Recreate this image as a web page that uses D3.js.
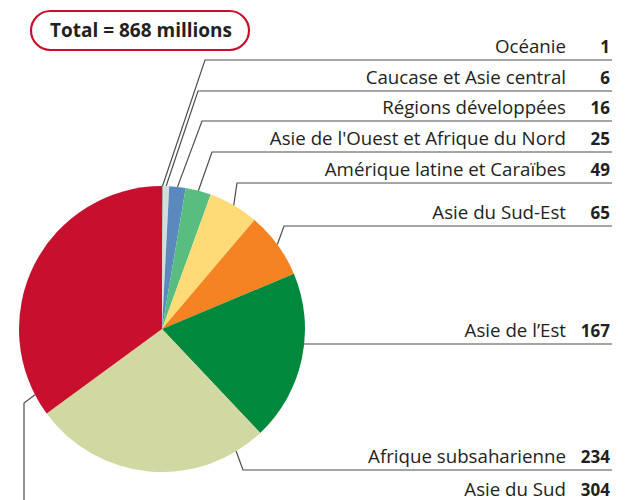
<!DOCTYPE html>
<html>
<head>
<meta charset="utf-8">
<script src="https://cdn.jsdelivr.net/npm/d3@7"></script>
<style>
  body { margin: 0; background: #fff; }
  svg text { font-family: "Open Sans", "Noto Sans", sans-serif; fill: #231f20; }
</style>
</head>
<body>
<div id="chart"></div>
<script>
// Undernourished people by region (millions)
var regions = ["Océanie", "Caucase et Asie central", "Régions développées",
    "Asie de l'Ouest et Afrique du Nord", "Amérique latine et Caraïbes",
    "Asie du Sud-Est", "Asie de l’Est", "Afrique subsaharienne", "Asie du Sud"];
var values = [1, 6, 16, 25, 49, 65, 167, 234, 304];
var colors = ["#a3a3a3", "#d9dadb", "#5b89bd", "#58bd7e", "#fedb76",
    "#f58321", "#00893d", "#d2d8a1", "#c8102e"];
var totalLabel = "Total = 868 millions";

// label rows: underline y, elbow x/y, anchor position inside the slice (0..1)
var rows = [
    { y: 60,  ex: 205, at: 0.5 },
    { y: 91,  ex: 198, at: 0.5 },
    { y: 121, ex: 202, at: 0.5 },
    { y: 152, ex: 212, at: 0.5 },
    { y: 183, ex: 237, at: 0.5 },
    { y: 226, ex: 284, at: 0.5 },
    { y: 344, ex: null, at: null },
    { y: 470, ex: 243, at: 0.125 },
    { y: 503, ex: 24, ey: 403, at: 0.07 }
];

var width = 629, height = 500;
var cx = 162, cy = 329, radius = 143;
var lineEnd = 612, nameRight = 566, valueRight = 610;

var svg = d3.select("#chart").append("svg")
    .attr("width", width)
    .attr("height", height);

var data = regions.map(function(r, i) { return { name: r, value: values[i], color: colors[i] }; });

var pie = d3.pie().sort(null).value(function(d) { return d.value; });
var arc = d3.arc().innerRadius(0).outerRadius(radius);
var arcs = pie(data);

var g = svg.append("g").attr("transform", "translate(" + cx + "," + cy + ")");

g.selectAll("path.slice").data(arcs).enter().append("path")
    .attr("class", "slice")
    .attr("d", arc)
    .attr("fill", function(d) { return d.data.color; });

// leader lines
function edgePoint(a) {
    return [cx + radius * Math.sin(a), cy - radius * Math.cos(a)];
}

var line = d3.line();

arcs.forEach(function(d, i) {
    var row = rows[i], pts;
    if (row.at === null) {
        // horizontal line straight out of the pie edge
        var dy = row.y - cy;
        pts = [[cx + Math.sqrt(radius * radius - dy * dy), row.y], [lineEnd, row.y]];
    } else {
        var a = d.startAngle + (d.endAngle - d.startAngle) * row.at;
        var p0 = edgePoint(a);
        pts = [p0];
        if (row.ey !== undefined) pts.push([row.ex, row.ey]);
        pts.push([row.ex, row.y]);
        pts.push([lineEnd, row.y]);
    }
    svg.append("path")
        .attr("d", line(pts))
        .attr("fill", "none")
        .attr("stroke", "#4d4d4d")
        .attr("stroke-width", 1.2);
});

// labels
var labels = svg.selectAll("g.label").data(arcs).enter().append("g").attr("class", "label");

labels.append("text")
    .attr("x", nameRight)
    .attr("y", function(d, i) { return rows[i].y - 7; })
    .attr("text-anchor", "end")
    .style("font-size", "18.7px")
    .text(function(d) { return d.data.name; });

labels.append("text")
    .attr("x", valueRight)
    .attr("y", function(d, i) { return rows[i].y - 7; })
    .attr("text-anchor", "end")
    .style("font-size", "17px")
    .style("font-weight", "bold")
    .text(function(d) { return d.data.value; });

// total box
svg.append("rect")
    .attr("x", 31).attr("y", 11)
    .attr("width", 218).attr("height", 39)
    .attr("rx", 19.5)
    .attr("fill", "#fff")
    .attr("stroke", "#c8102e")
    .attr("stroke-width", 2.2);

svg.append("text")
    .attr("x", 141).attr("y", 37)
    .attr("text-anchor", "middle")
    .style("font-size", "19px")
    .style("font-weight", "bold")
    .text(totalLabel);
</script>
</body>
</html>
